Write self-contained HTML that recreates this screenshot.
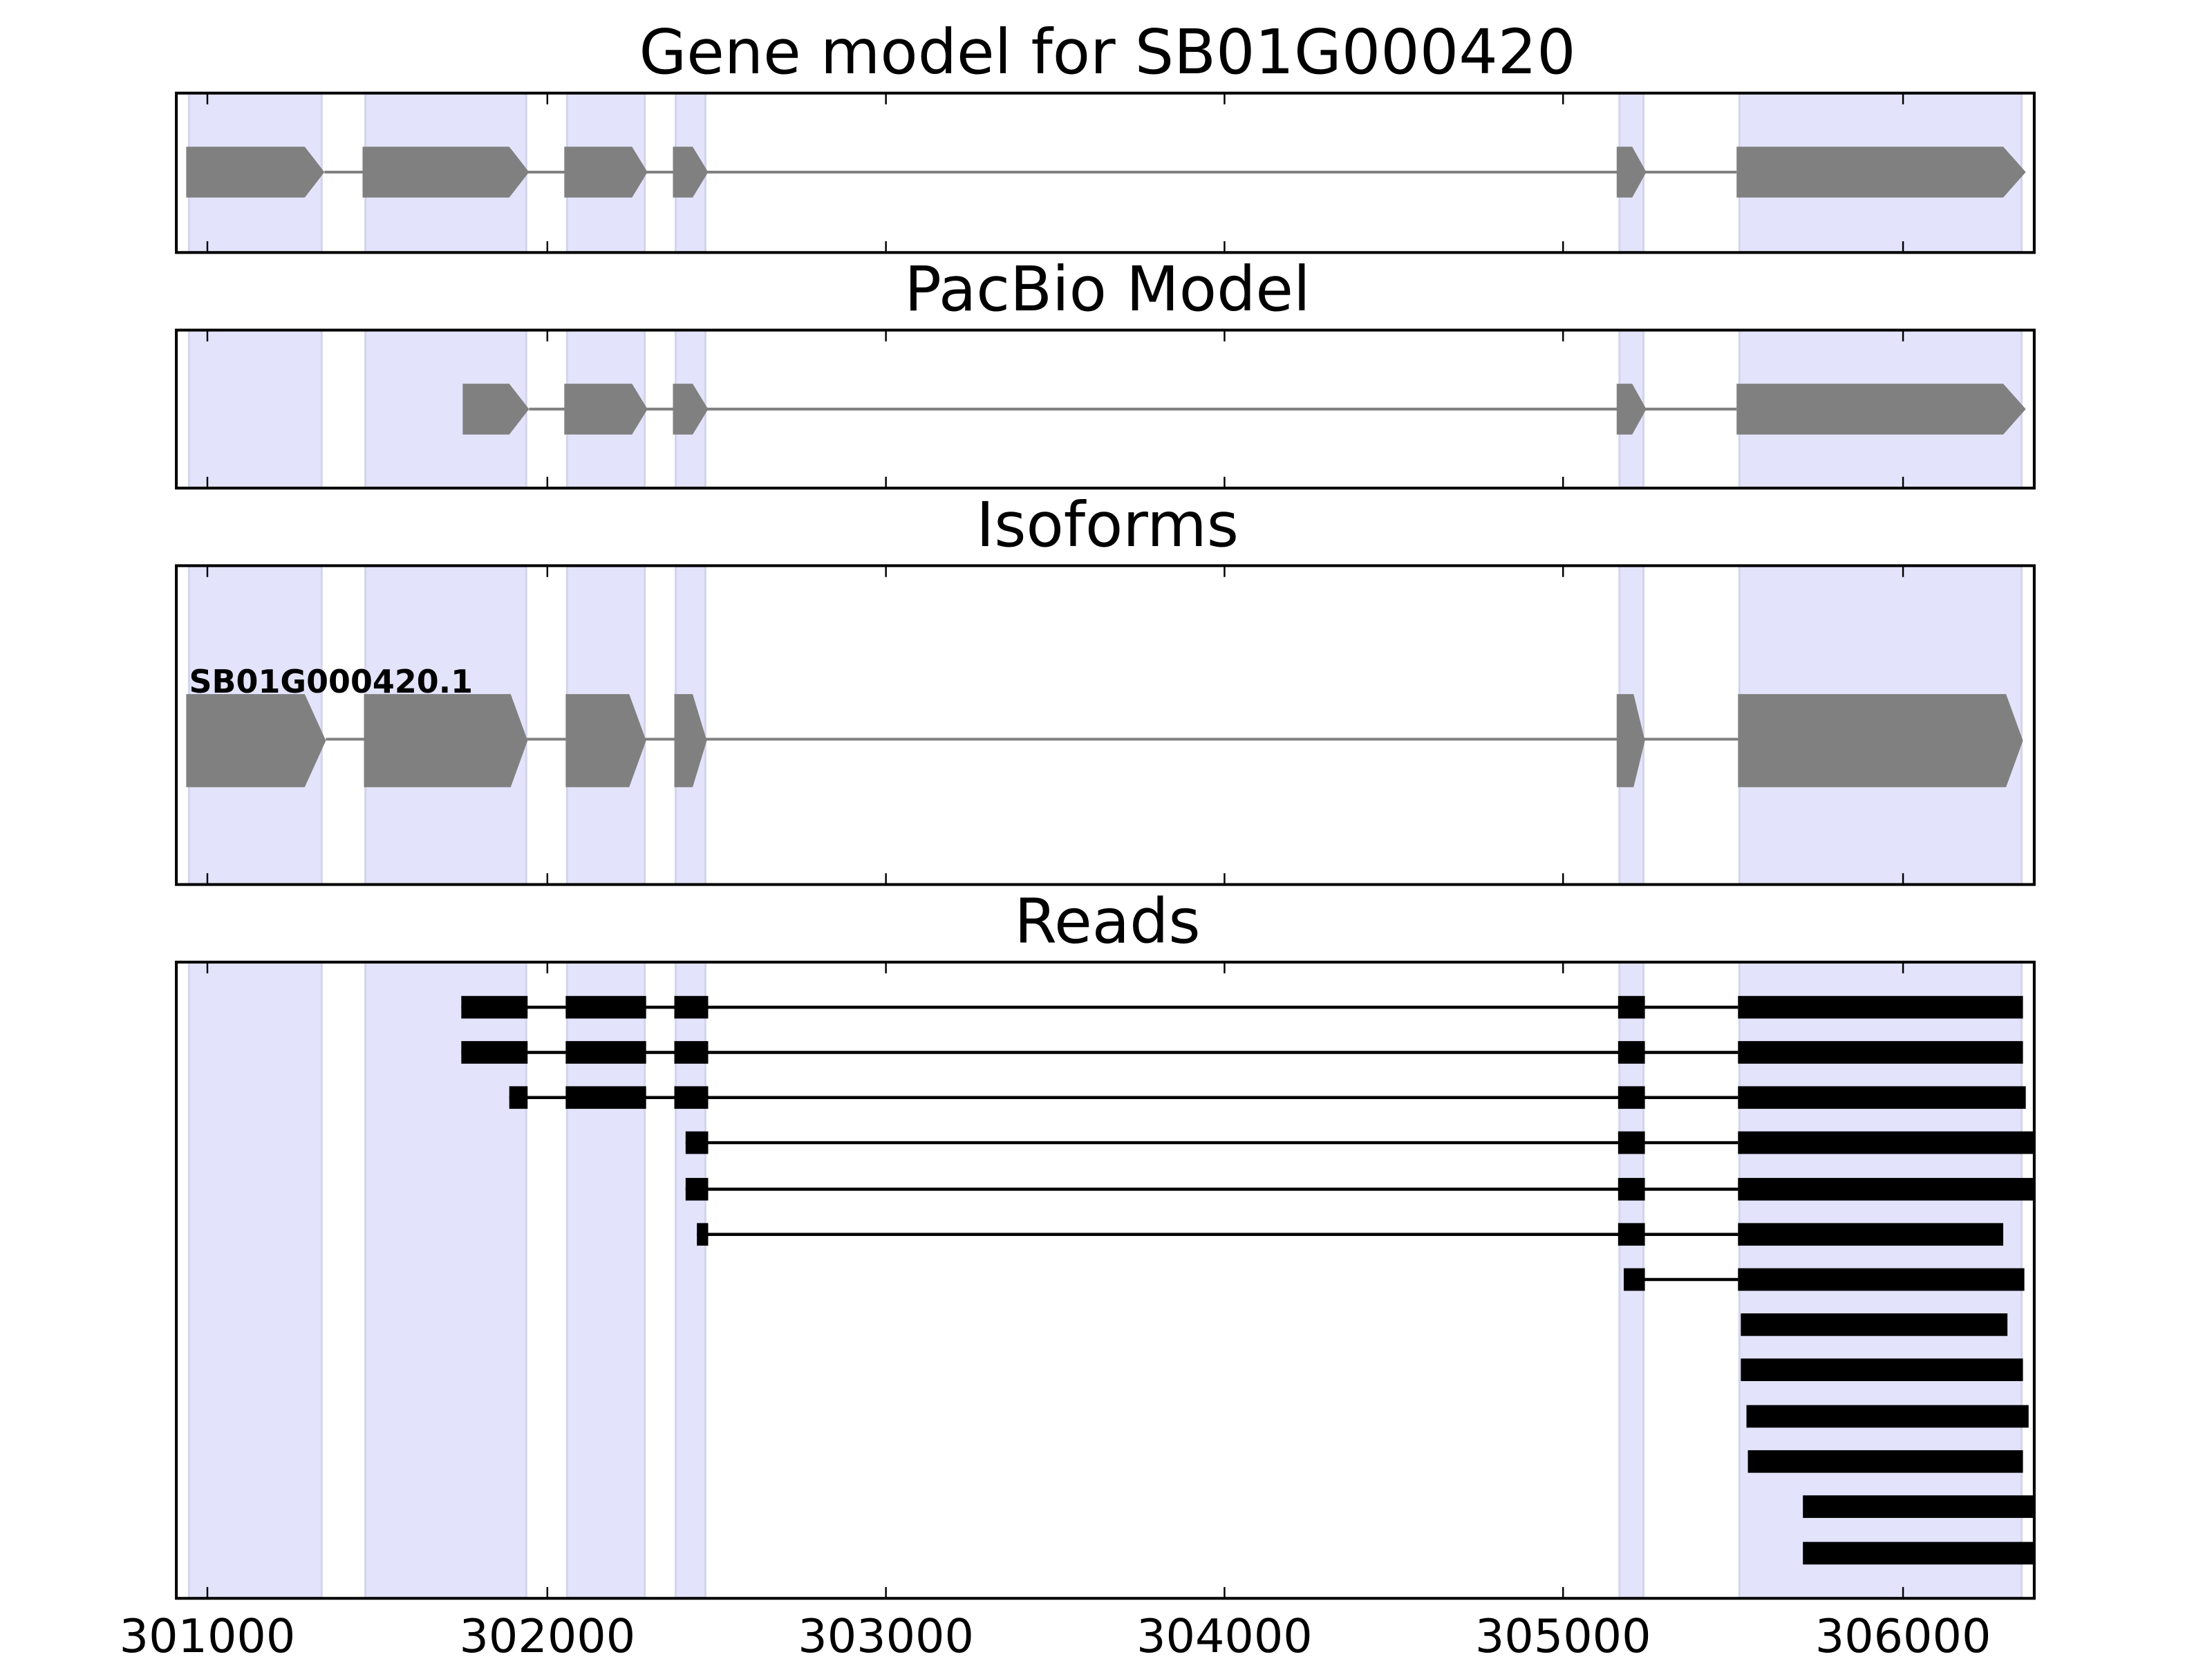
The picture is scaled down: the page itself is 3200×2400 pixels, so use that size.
<!DOCTYPE html>
<html><head><meta charset="utf-8"><style>html,body{margin:0;padding:0;background:#fff;width:3200px;height:2400px;overflow:hidden}svg{display:block}</style></head>
<body>
<svg width="3200" height="2400" viewBox="0 0 1568 1176" xmlns="http://www.w3.org/2000/svg" font-family="DejaVu Sans, Liberation Sans, sans-serif">
<defs>
<g id="bands">
<g fill="#e3e3fb" stroke="#d4d4ec" stroke-width="1.5">
<rect x="134" width="94" height="1000"/>
<rect x="259" width="114" height="1000"/>
<rect x="402" width="55" height="1000"/>
<rect x="479" width="21" height="1000"/>
<rect x="1148" width="17" height="1000"/>
<rect x="1233" width="200" height="1000"/>
</g></g>
</defs>
<g>
<svg x="125" y="66" width="1317" height="113" viewBox="125 0 1317 113" overflow="hidden"><use href="#bands"/></svg>
<svg x="125" y="234" width="1317" height="112" viewBox="125 0 1317 112" overflow="hidden"><use href="#bands"/></svg>
<svg x="125" y="401" width="1317" height="226" viewBox="125 0 1317 226" overflow="hidden"><use href="#bands"/></svg>
<svg x="125" y="682" width="1317" height="451" viewBox="125 0 1317 451" overflow="hidden"><use href="#bands"/></svg>
</g>
<g fill="#808080">
<line x1="230" y1="122" x2="1231" y2="122" stroke="#808080" stroke-width="2"/>
<polygon points="132,104 216,104 230,122 216,140 132,140"/>
<polygon points="257,104 361,104 375,122 361,140 257,140"/>
<polygon points="400,104 448,104 459,122 448,140 400,140"/>
<polygon points="477,104 491,104 502,122 491,140 477,140"/>
<polygon points="1146,104 1157,104 1167,122 1157,140 1146,140"/>
<polygon points="1231,104 1420,104 1436,122 1420,140 1231,140"/>
</g>
<g fill="#808080">
<line x1="375" y1="290" x2="1231" y2="290" stroke="#808080" stroke-width="2"/>
<polygon points="328,272 361,272 375,290 361,308 328,308"/>
<polygon points="400,272 448,272 459,290 448,308 400,308"/>
<polygon points="477,272 491,272 502,290 491,308 477,308"/>
<polygon points="1146,272 1157,272 1167,290 1157,308 1146,308"/>
<polygon points="1231,272 1420,272 1436,290 1420,308 1231,308"/>
</g>
<g fill="#808080">
<line x1="231" y1="524" x2="1232" y2="524" stroke="#808080" stroke-width="2"/>
<polygon points="132,492 216,492 231,525 216,558 132,558"/>
<polygon points="258,492 362,492 374,525 362,558 258,558"/>
<polygon points="401,492 446,492 458,525 446,558 401,558"/>
<polygon points="478,492 491,492 501,525 491,558 478,558"/>
<polygon points="1146,492 1158,492 1166,525 1158,558 1146,558"/>
<polygon points="1232,492 1422,492 1434,525 1422,558 1232,558"/>
</g>
<text x="134" y="491" font-size="22.5" font-weight="bold" fill="#000">SB01G000420.1</text>
<g fill="#000" stroke="#000" stroke-width="2.2">
<line x1="327" y1="714" x2="1232" y2="714"/><line x1="327" y1="746" x2="1232" y2="746"/>
<line x1="361" y1="778" x2="1232" y2="778"/><line x1="486" y1="810" x2="1232" y2="810"/>
<line x1="486" y1="843" x2="1232" y2="843"/><line x1="494" y1="875" x2="1232" y2="875"/>
<line x1="1151" y1="907" x2="1232" y2="907"/>
</g>
<g fill="#000">
<rect x="327" y="706" width="47" height="16"/><rect x="401" y="706" width="57" height="16"/><rect x="478" y="706" width="24" height="16"/><rect x="1147" y="706" width="19" height="16"/><rect x="1232" y="706" width="202" height="16"/>
<rect x="327" y="738" width="47" height="16"/><rect x="401" y="738" width="57" height="16"/><rect x="478" y="738" width="24" height="16"/><rect x="1147" y="738" width="19" height="16"/><rect x="1232" y="738" width="202" height="16"/>
<rect x="361" y="770" width="13" height="16"/><rect x="401" y="770" width="57" height="16"/><rect x="478" y="770" width="24" height="16"/><rect x="1147" y="770" width="19" height="16"/><rect x="1232" y="770" width="204" height="16"/>
<rect x="486" y="802" width="16" height="16"/><rect x="1147" y="802" width="19" height="16"/><rect x="1232" y="802" width="210" height="16"/>
<rect x="486" y="835" width="16" height="16"/><rect x="1147" y="835" width="19" height="16"/><rect x="1232" y="835" width="210" height="16"/>
<rect x="494" y="867" width="8" height="16"/><rect x="1147" y="867" width="19" height="16"/><rect x="1232" y="867" width="188" height="16"/>
<rect x="1151" y="899" width="15" height="16"/><rect x="1232" y="899" width="203" height="16"/>
<rect x="1234" y="931" width="189" height="16"/>
<rect x="1234" y="963" width="200" height="16"/>
<rect x="1238" y="996" width="200" height="16"/>
<rect x="1239" y="1028" width="195" height="16"/>
<rect x="1278" y="1060" width="164" height="16"/>
<rect x="1278" y="1093" width="164" height="16"/>
</g>
<g fill="none" stroke="#000" stroke-width="2">
<rect x="125" y="66" width="1317" height="113"/>
<rect x="125" y="234" width="1317" height="112"/>
<rect x="125" y="401" width="1317" height="226"/>
<rect x="125" y="682" width="1317" height="451"/>
</g>
<g stroke="#000" stroke-width="1.2">
<path d="M147,66v8M388,66v8M628,66v8M868,66v8M1108,66v8M1349,66v8 M147,179v-8M388,179v-8M628,179v-8M868,179v-8M1108,179v-8M1349,179v-8"/>
<path d="M147,234v8M388,234v8M628,234v8M868,234v8M1108,234v8M1349,234v8 M147,346v-8M388,346v-8M628,346v-8M868,346v-8M1108,346v-8M1349,346v-8"/>
<path d="M147,401v8M388,401v8M628,401v8M868,401v8M1108,401v8M1349,401v8 M147,627v-8M388,627v-8M628,627v-8M868,627v-8M1108,627v-8M1349,627v-8"/>
<path d="M147,682v8M388,682v8M628,682v8M868,682v8M1108,682v8M1349,682v8 M147,1133v-8M388,1133v-8M628,1133v-8M868,1133v-8M1108,1133v-8M1349,1133v-8"/>
</g>
<g font-size="43.5" text-anchor="middle" fill="#000">
<text x="785" y="52">Gene model for SB01G000420</text>
<text x="785" y="220">PacBio Model</text>
<text x="785" y="387">Isoforms</text>
<text x="785" y="668">Reads</text>
</g>
<g font-size="32.7" text-anchor="middle" fill="#000">
<text x="147" y="1171">301000</text><text x="388" y="1171">302000</text><text x="628" y="1171">303000</text>
<text x="868" y="1171">304000</text><text x="1108" y="1171">305000</text><text x="1349" y="1171">306000</text>
</g>
</svg>
</body></html>
